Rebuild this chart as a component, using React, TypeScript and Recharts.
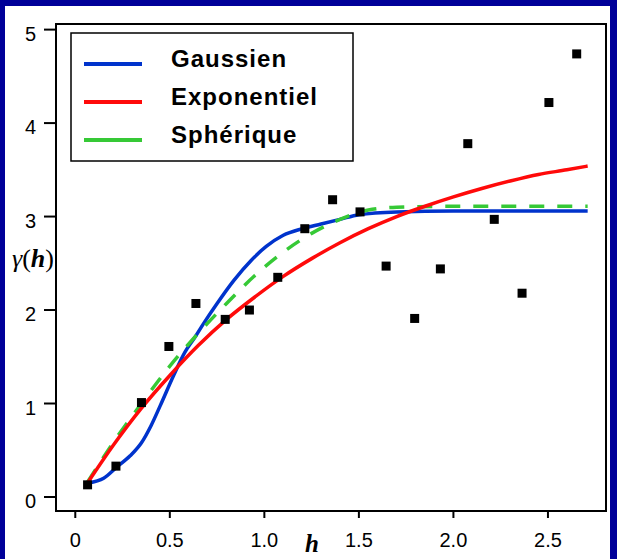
import React from 'react';
import { ComposedChart, Line, Scatter, XAxis, YAxis, ReferenceArea, Legend } from 'recharts';

// experimental variogram (lag h, gamma)
const lagH = [0.065, 0.215, 0.35, 0.495, 0.638, 0.793, 0.921, 1.071, 1.214, 1.361, 1.506, 1.644, 1.795, 1.931, 2.076, 2.216, 2.363, 2.505, 2.652];
const gammaObs = [0.13, 0.33, 1.01, 1.61, 2.07, 1.9, 2.0, 2.35, 2.87, 3.18, 3.05, 2.47, 1.91, 2.44, 3.78, 2.97, 2.18, 4.22, 4.74];

// fitted models
const gaussH = [0.07, 0.15, 0.22, 0.29, 0.35, 0.4, 0.45, 0.52, 0.58, 0.63, 0.68, 0.75, 0.84, 0.93, 1.01, 1.1, 1.2, 1.3, 1.4, 1.5, 1.7, 2.0, 2.4, 2.71];
const gaussGamma = [0.15, 0.2, 0.32, 0.44, 0.58, 0.76, 0.98, 1.3, 1.55, 1.7, 1.86, 2.07, 2.32, 2.53, 2.68, 2.8, 2.87, 2.92, 2.97, 3.02, 3.05, 3.06, 3.06, 3.06];

const expoH = [0.065, 0.2, 0.35, 0.5, 0.65, 0.8, 0.95, 1.1, 1.25, 1.4, 1.55, 1.7, 1.85, 2.0, 2.15, 2.3, 2.45, 2.6, 2.71];
const expoGamma = [0.15, 0.55, 0.95, 1.3, 1.62, 1.9, 2.14, 2.36, 2.55, 2.72, 2.87, 3.0, 3.11, 3.21, 3.3, 3.38, 3.45, 3.5, 3.54];

const sphH = [0.065, 0.2, 0.35, 0.5, 0.65, 0.8, 0.95, 1.1, 1.25, 1.4, 1.55, 1.7, 2.0, 2.4, 2.71];
const sphGamma = [0.16, 0.58, 1.0, 1.4, 1.75, 2.07, 2.37, 2.62, 2.82, 2.97, 3.07, 3.1, 3.11, 3.11, 3.11];

const xTicks = [0, 0.5, 1, 1.5, 2, 2.5];
const yTicks = [0, 1, 2, 3, 4, 5];
const modelNames = ['Gaussien', 'Exponentiel', 'Sphérique'];

const BLUE = '#0033cc';
const RED = '#ff0a0a';
const GREEN = '#36c936';
const NAVY = '#000099';

const obs = lagH.map((h, i) => ({ h, g: gammaObs[i] }));
const gauss = gaussH.map((h, i) => ({ h, g: gaussGamma[i] }));
const expo = expoH.map((h, i) => ({ h, g: expoGamma[i] }));
const sph = sphH.map((h, i) => ({ h, g: sphGamma[i] }));

const X_DOMAIN = [-0.102, 2.807];
const Y_DOMAIN = [-0.15, 5.06];

const Square = (p: any) => <rect x={p.cx - 4.5} y={p.cy - 4.5} width={9} height={9} fill="#000" />;

const GammaLabel = ({ viewBox }: any) => {
  const { x, y, width, height } = viewBox;
  return (
    <text x={x + width - 2} y={y + height / 2 - 1} textAnchor="end" fontFamily="'Liberation Serif', serif" fontSize={26} fill="#000">
      <tspan fontStyle="italic">γ</tspan>
      <tspan>(</tspan>
      <tspan fontStyle="italic" fontWeight="bold">h</tspan>
      <tspan>)</tspan>
    </text>
  );
};

const HLabel = ({ viewBox }: any) => {
  const { x, y } = viewBox;
  return (
    <text x={x + 256} y={y + 41} textAnchor="middle" fontFamily="'Liberation Serif', serif" fontSize={25} fontStyle="italic" fontWeight="bold" fill="#000">
      h
    </text>
  );
};

const LegendBox = () => {
  const colors = [BLUE, RED, GREEN];
  return (
    <svg width={285} height={131} style={{ display: 'block' }}>
      <rect x={1} y={1} width={282} height={128} fill="#fff" stroke="#000" strokeWidth={1.5} />
      {modelNames.map((name, i) => (
        <g key={name}>
          <line x1={14} x2={72} y1={32 + 38 * i} y2={32 + 38 * i} stroke={colors[i]} strokeWidth={4} />
          <text x={101} y={35 + 38 * i} fontFamily="'Liberation Sans', Arial, sans-serif" fontWeight="bold" fontSize={24} letterSpacing={1} fill="#000">
            {name}
          </text>
        </g>
      ))}
    </svg>
  );
};

export default function App() {
  const tickStyle = { fill: '#000', fontSize: 20, fontFamily: "'Liberation Sans', Arial, sans-serif" };
  return (
    <div style={{ position: 'absolute', left: 0, top: 0, width: 617, height: 559, background: NAVY }}>
      <div style={{ position: 'absolute', left: 5, top: 6, width: 605, height: 553, background: '#fff' }} />
      <div style={{ position: 'absolute', left: 0, top: 0 }}>
        <ComposedChart width={617} height={559} margin={{ top: 24, right: 11, bottom: 0, left: 0 }}>
          <XAxis
            type="number"
            dataKey="h"
            domain={X_DOMAIN}
            allowDataOverflow
            ticks={xTicks}
            tickFormatter={(v: number) => (v === 0 ? '0' : v.toFixed(1))}
            axisLine={false}
            tickLine={{ stroke: '#000', strokeWidth: 2 }}
            tickSize={7}
            tickMargin={15}
            tick={tickStyle}
            height={48}
            label={<HLabel />}
          />
          <YAxis
            type="number"
            dataKey="g"
            domain={Y_DOMAIN}
            allowDataOverflow
            ticks={yTicks}
            axisLine={false}
            tickLine={{ stroke: '#000', strokeWidth: 2 }}
            tickSize={12}
            tickMargin={8}
            tick={{ ...tickStyle, dy: 4 }}
            width={56}
            label={<GammaLabel />}
          />
          <Scatter data={obs} dataKey="g" fill="#000" shape={Square} isAnimationActive={false} />
          <Line data={gauss} dataKey="g" type="monotone" stroke={BLUE} strokeWidth={3.5} dot={false} isAnimationActive={false} />
          <Line data={sph} dataKey="g" type="monotone" stroke={GREEN} strokeWidth={3.5} strokeDasharray="15 13" dot={false} isAnimationActive={false} />
          <Line data={expo} dataKey="g" type="monotone" stroke={RED} strokeWidth={3.5} dot={false} isAnimationActive={false} />
          <ReferenceArea x1={X_DOMAIN[0]} x2={X_DOMAIN[1]} y1={Y_DOMAIN[0]} y2={Y_DOMAIN[1]} fill="none" stroke="#000" strokeWidth={2} fillOpacity={0} />
          <Legend
            layout="vertical"
            align="center"
            verticalAlign="middle"
            content={<LegendBox />}
            wrapperStyle={{ position: 'absolute', left: 70, top: 32, width: 285, height: 131 }}
          />
        </ComposedChart>
      </div>
    </div>
  );
}
